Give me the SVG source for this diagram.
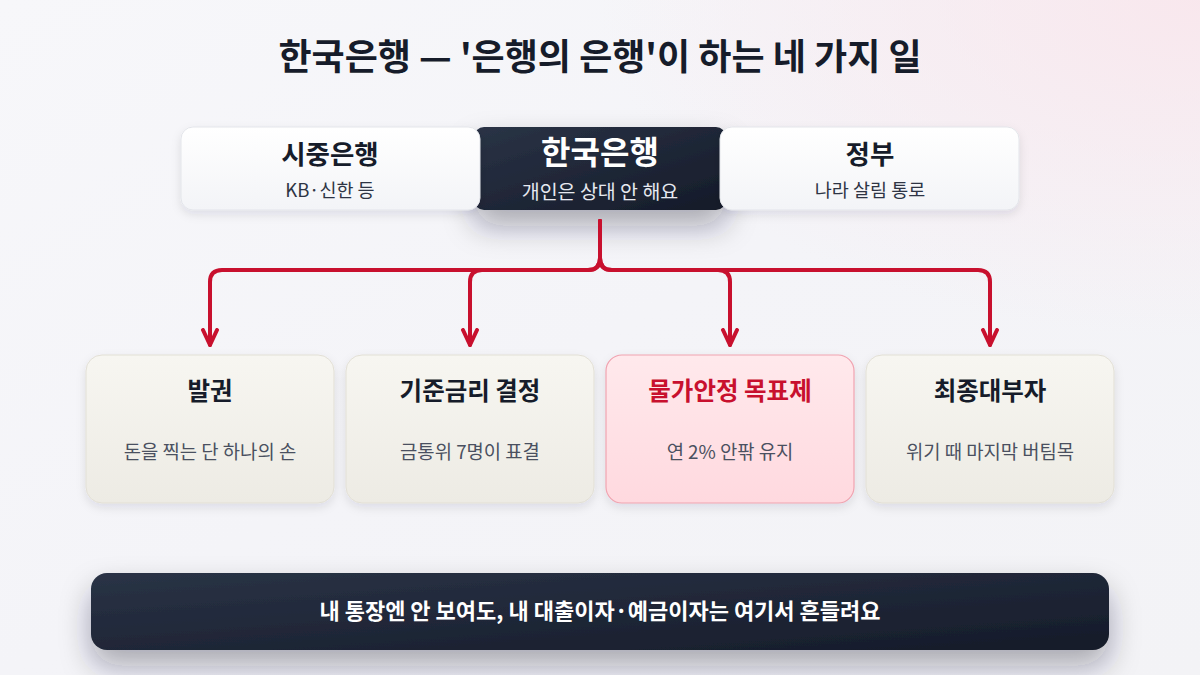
<svg xmlns="http://www.w3.org/2000/svg" width="1200" height="675" viewBox="0 0 1200 675">
  <defs>
    <linearGradient id="bg" x1="0" y1="0" x2="1" y2="1">
      <stop offset="0" stop-color="#f7f7fa"/>
      <stop offset="0.5" stop-color="#f4f4f8"/>
      <stop offset="1" stop-color="#f3f3f6"/>
    </linearGradient>
    <radialGradient id="pink" cx="1" cy="0" r="0.5">
      <stop offset="0" stop-color="#f9e6ec" stop-opacity="0.9"/>
      <stop offset="1" stop-color="#f9e6ec" stop-opacity="0"/>
    </radialGradient>
    <linearGradient id="dark" x1="0" y1="0" x2="1" y2="1">
      <stop offset="0" stop-color="#2a3346"/>
      <stop offset="1" stop-color="#151b29"/>
    </linearGradient>
    <linearGradient id="white" x1="0" y1="0" x2="0" y2="1">
      <stop offset="0" stop-color="#ffffff"/>
      <stop offset="1" stop-color="#f3f4f7"/>
    </linearGradient>
    <linearGradient id="beige" x1="0" y1="0" x2="0" y2="1">
      <stop offset="0" stop-color="#f7f6f1"/>
      <stop offset="1" stop-color="#edebe4"/>
    </linearGradient>
    <linearGradient id="rose" x1="0" y1="0" x2="0" y2="1">
      <stop offset="0" stop-color="#ffe9ec"/>
      <stop offset="1" stop-color="#ffd9df"/>
    </linearGradient>
    <filter id="shadow" x="-20%" y="-30%" width="140%" height="180%">
      <feDropShadow dx="0" dy="4" stdDeviation="5" flood-color="#1a2030" flood-opacity="0.10"/>
    </filter>
    <filter id="bigshadow" x="-40%" y="-50%" width="180%" height="260%">
      <feDropShadow dx="0" dy="16" stdDeviation="15" flood-color="#1a2030" flood-opacity="0.35"/>
    </filter>
    <marker id="arrow" viewBox="0 0 20 20" refX="17" refY="10" markerWidth="20" markerHeight="20" markerUnits="userSpaceOnUse" orient="auto">
      <path d="M2 3 L17 10 L2 17" fill="none" stroke="#c8102e" stroke-width="4" stroke-linejoin="round" stroke-linecap="round"/>
    </marker>
    <style>
      .t { font-family: "Noto Sans CJK KR", "Noto Sans", sans-serif; text-anchor: middle; }
      .title { font-size: 36px; font-weight: 700; fill: #161c2a; }
      .h { font-size: 26.5px; font-weight: 700; fill: #161c2a; }
      .hw { font-size: 32px; font-weight: 700; fill: #ffffff; }
      .s { font-size: 18.5px; font-weight: 400; fill: #2e3444; }
      .sw { font-size: 19.5px; font-weight: 400; fill: #e6e9f0; }
      .ch { font-size: 24.5px; font-weight: 700; fill: #161c2a; }
      .chr { font-size: 24.5px; font-weight: 700; fill: #c8102e; }
      .cs { font-size: 18.8px; font-weight: 400; fill: #4a5060; }
      .conn { fill: none; stroke: #c8102e; stroke-width: 4; stroke-linecap: round; stroke-linejoin: round; }
    </style>
  </defs>

  <rect x="0" y="0" width="1200" height="675" fill="url(#bg)"/>
  <rect x="0" y="0" width="1200" height="675" fill="url(#pink)"/>

  <text class="t title" x="600" y="70">한국은행 — '은행의 은행'이 하는 네 가지 일</text>

  <g id="bok">
    <rect x="474" y="127" width="252" height="83" rx="10" fill="url(#dark)" filter="url(#bigshadow)"/>
    <text class="t hw" x="600" y="164">한국은행</text>
    <text class="t sw" x="600" y="199">개인은 상대 안 해요</text>
  </g>
  <g id="commercial">
    <rect x="181" y="127" width="299" height="83" rx="12" fill="url(#white)" stroke="#e3e5ea" stroke-width="1" filter="url(#shadow)"/>
    <text class="t h" x="330" y="164">시중은행</text>
    <text class="t s" x="330" y="197">KB·신한 등</text>
  </g>
  <g id="gov">
    <rect x="720" y="127" width="299" height="83" rx="12" fill="url(#white)" stroke="#e3e5ea" stroke-width="1" filter="url(#shadow)"/>
    <text class="t h" x="870" y="164">정부</text>
    <text class="t s" x="870" y="197">나라 살림 통로</text>
  </g>

  <g id="connectors">
    <path class="conn" d="M600 221 V258 Q600 270 588 270 H222 Q210 270 210 282 V345" marker-end="url(#arrow)"/>
    <path class="conn" d="M600 221 V258 Q600 270 588 270 H482 Q470 270 470 282 V345" marker-end="url(#arrow)"/>
    <path class="conn" d="M600 221 V258 Q600 270 612 270 H718 Q730 270 730 282 V345" marker-end="url(#arrow)"/>
    <path class="conn" d="M600 221 V258 Q600 270 612 270 H978 Q990 270 990 282 V345" marker-end="url(#arrow)"/>
  </g>

  <g id="issue">
    <rect x="86" y="355" width="248" height="148" rx="16" fill="url(#beige)" stroke="#e2dfd5" stroke-width="1" filter="url(#shadow)"/>
    <text class="t ch" x="210" y="400">발권</text>
    <text class="t cs" x="210" y="459">돈을 찍는 단 하나의 손</text>
  </g>
  <g id="rate">
    <rect x="346" y="355" width="248" height="148" rx="16" fill="url(#beige)" stroke="#e2dfd5" stroke-width="1" filter="url(#shadow)"/>
    <text class="t ch" x="470" y="400">기준금리 결정</text>
    <text class="t cs" x="470" y="459">금통위 7명이 표결</text>
  </g>
  <g id="inflation">
    <rect x="606" y="355" width="248" height="148" rx="16" fill="url(#rose)" stroke="#f0a3b0" stroke-width="1.2" filter="url(#shadow)"/>
    <text class="t chr" x="730" y="400">물가안정 목표제</text>
    <text class="t cs" x="730" y="459">연 2% 안팎 유지</text>
  </g>
  <g id="lender">
    <rect x="866" y="355" width="248" height="148" rx="16" fill="url(#beige)" stroke="#e2dfd5" stroke-width="1" filter="url(#shadow)"/>
    <text class="t ch" x="990" y="400">최종대부자</text>
    <text class="t cs" x="990" y="459">위기 때 마지막 버팀목</text>
  </g>

  <g id="banner">
    <rect x="91" y="573" width="1018" height="77" rx="16" fill="url(#dark)" filter="url(#bigshadow)"/>
    <text class="t" x="600" y="619" font-size="22" font-weight="700" fill="#ffffff">내 통장엔 안 보여도, 내 대출이자·예금이자는 여기서 흔들려요</text>
  </g>
</svg>
